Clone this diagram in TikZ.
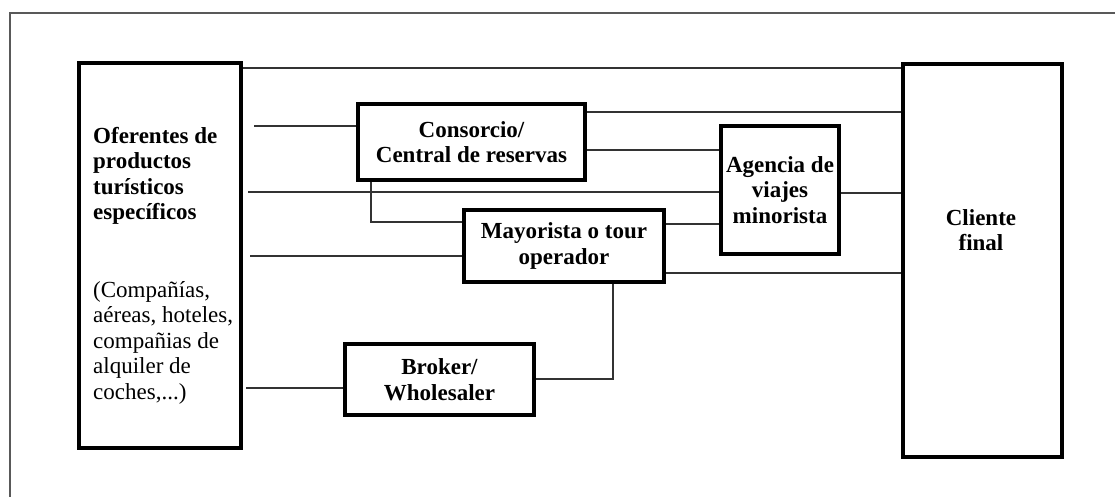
\documentclass[tikz,border=0pt]{standalone}
\usepackage{fontspec}
\setmainfont{Liberation Serif}
\begin{document}
\begin{tikzpicture}[x=1pt,y=-1pt,
  box/.style={draw=black,line width=4pt,rectangle,inner sep=0pt,align=center,
    font=\bfseries\fontsize{23}{25.5}\selectfont},
  label/.style={inner sep=0pt,align=left},
  link/.style={draw=black!80,line width=1.4pt},
  frame/.style={draw=black!65,line width=1.5pt}]
\useasboundingbox (0,0) rectangle (1115,497);
% outer frame (open on the right and bottom)
\draw[frame] (10,500) -- (10,13) -- (1118,13);

% boxes
\node[box,minimum width=162pt,minimum height=385pt] (ofr) at (160,255.5) {};
\node[box,minimum width=227pt,minimum height=76pt] (cons) at (471.5,142) {Consorcio/\\Central de reservas};
\node[box,minimum width=200pt,minimum height=72pt] (may) at (564,246) {Mayorista o tour\\operador};
\node[box,minimum width=118pt,minimum height=128pt] (ag) at (780,190) {Agencia de\\viajes\\minorista};
\node[box,minimum width=159pt,minimum height=393pt] (cli) at (982.5,260.5) {};
\node[box,minimum width=189pt,minimum height=71pt] (brk) at (439.5,379.5) {Broker/\\Wholesaler};

% texts of the two tall boxes
\node[label,anchor=north west,font=\bfseries\fontsize{23}{25.5}\selectfont] (ofrtitle) at (93,127)
  {Oferentes de\\productos\\turísticos\\específicos};
\node[label,anchor=north west,font=\fontsize{23}{25.5}\selectfont] (ofrlist) at (93,281)
  {(Compañías,\\aéreas, hoteles,\\compañias de\\alquiler de\\coches,...)};
\node[inner sep=0pt,align=center,font=\bfseries\fontsize{23}{25.5}\selectfont] (clitxt) at (981,230)
  {Cliente\\final};

% free ends of the lines leaving the suppliers
\coordinate (f1) at (254,126);
\coordinate (f2) at (248,192);
\coordinate (f3) at (250,256);
\coordinate (f4) at (246,388);

% connectors
\draw[link] (ofr.east |- 0,68) -- (cli.west |- 0,68);
\draw[link] (f1) -- (cons.west |- f1);
\draw[link] (cons.east |- 0,112) -- (cli.west |- 0,112);
\draw[link] (cons.east |- 0,150) -- (ag.west |- 0,150);
\draw[link] (f2) -- (ag.west |- f2);
\draw[link] (cons.south -| 371,0) -- (371,222) -- (may.west |- 0,222);
\draw[link] (f3) -- (may.west |- f3);
\draw[link] (may.east |- 0,224) -- (ag.west |- 0,224);
\draw[link] (ag.east |- 0,193) -- (cli.west |- 0,193);
\draw[link] (may.east |- 0,273) -- (cli.west |- 0,273);
\draw[link] (may.south -| 613,0) -- (613,379) -- (brk.east |- 0,379);
\draw[link] (f4) -- (brk.west |- f4);
\end{tikzpicture}
\end{document}
